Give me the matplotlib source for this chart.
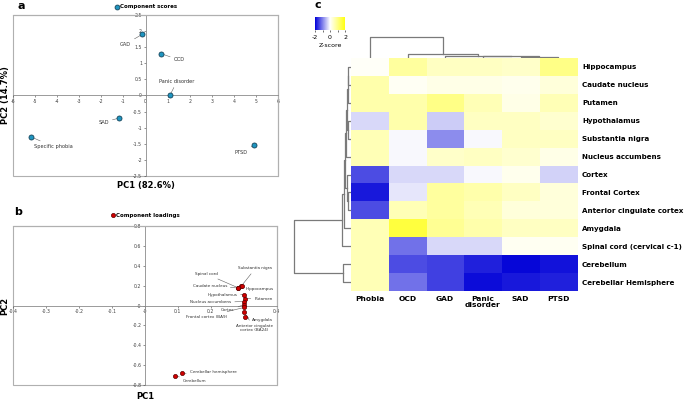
import numpy as np
import matplotlib.pyplot as plt
from matplotlib.colors import LinearSegmentedColormap
from matplotlib.lines import Line2D
from matplotlib.patches import Rectangle

# panel a: component scores
score_names = ['GAD', 'OCD', 'Panic disorder', 'SAD', 'Specific phobia', 'PTSD']
score_pc1 = [-0.15, 0.7, 1.1, -1.2, -5.2, 4.9]
score_pc2 = [1.9, 1.3, 0.0, -0.7, -1.28, -1.55]
score_offsets = [(-12, -7), (13, -4.5), (5, 10), (-11, -3), (16, -7), (-9, -5)]

# panel b: component loadings
load_names = ['Spinal cord', 'Substantia nigra', 'Caudate nucleus', 'Hippocampus',
              'Hypothalamus', 'Putamen', 'Nucleus accumbens', 'Cortex',
              'Frontal cortex (BA9)', 'Anterior cingulate\ncortex (BA24)', 'Amygdala',
              'Cerebellar hemisphere', 'Cerebellum']
load_pc1 = [0.283, 0.293, 0.281, 0.295, 0.302, 0.305, 0.301, 0.302, 0.301, 0.302, 0.303, 0.114, 0.092]
load_pc2 = [0.178, 0.198, 0.176, 0.196, 0.11, 0.07, 0.04, 0.01, -0.02, -0.07, -0.12, -0.684, -0.708]
load_offsets = [(-23, 10), (10, 12.5), (-20, 1.7), (13, -1.8), (-16, 0), (13, -0.5),
                (-24, -0.7), (-12, -4.3), (-27, -6.5), (7, -11), (13, -1.5), (22, 1.2), (14, -3.6)]

# panel c: heatmap
regions = ['Hippocampus', 'Caudate nucleus', 'Putamen', 'Hypothalamus', 'Substantia nigra',
           'Nucleus accumbens', 'Cortex', 'Frontal Cortex', 'Anterior cingulate cortex',
           'Amygdala', 'Spinal cord (cervical c-1)', 'Cerebellum', 'Cerebellar Hemisphere']
disorders = ['Phobia', 'OCD', 'GAD', 'Panic\ndisorder', 'SAD', 'PTSD']
zscores = [
    [0.05, 0.8, 0.5, 0.5, 0.45, 1.0],
    [0.7, 0.08, 0.2, 0.2, 0.15, 0.3],
    [0.7, 0.7, 1.0, 0.6, 0.2, 0.6],
    [-0.3, 0.7, -0.4, 0.5, 0.5, 0.4],
    [0.6, -0.05, -0.9, -0.05, 0.5, 0.5],
    [0.6, -0.05, 0.45, 0.5, 0.4, 0.2],
    [-1.4, -0.3, -0.3, -0.05, 0.15, -0.35],
    [-1.8, -0.2, 0.8, 0.7, 0.5, 0.3],
    [-1.4, 0.6, 0.8, 0.6, 0.3, 0.3],
    [0.6, 1.6, 0.9, 0.7, 0.5, 0.5],
    [0.6, -1.1, -0.3, -0.3, 0.1, 0.1],
    [0.6, -1.4, -1.5, -1.75, -1.95, -1.85],
    [0.6, -1.1, -1.5, -1.9, -1.8, -1.75],
]
# dendrograms as (height, left, right), leaves are indices
col_tree = (1.0, 0, (0.21, 1, (0.11, 2, (0.08, 3, (0.05, 4, 5)))))
row_tree = (1.0,
            (0.15,
             (0.11,
              (0.09,
               (0.07, (0.06, (0.04, (0.03, 0, 1), 2), (0.035, 3, 4)), 5),
               (0.06, 6, (0.04, 7, 8))),
              9),
             10),
            (0.125, 11, 12))

fig = plt.figure(figsize=(6.85, 4.0), dpi=100)

frame_c = '#b0b0b0'
axis_c = '#8a8a8a'


def pca_axes(ax, xlim, ylim, xticks, yticks, hide=()):
    ax.set_xlim(xlim)
    ax.set_ylim(ylim)
    ax.spines['left'].set_position(('data', 0))
    ax.spines['bottom'].set_position(('data', 0))
    for s in ['left', 'bottom']:
        ax.spines[s].set_color(axis_c)
        ax.spines[s].set_linewidth(0.6)
    for s in ['top', 'right']:
        ax.spines[s].set_color(frame_c)
        ax.spines[s].set_linewidth(0.8)
    ax.add_patch(Rectangle((0, 0), 1, 1, transform=ax.transAxes, fill=False,
                           ec=frame_c, lw=0.8, clip_on=False, zorder=0))
    ax.set_xticks(xticks)
    ax.set_xticklabels(['' if v in hide else f'{v:g}' for v in xticks])
    ax.set_yticks(yticks)
    ax.set_yticklabels([f'{v:g}' for v in yticks])
    ax.tick_params(labelsize=3.3, length=1.5, width=0.4, colors='#404040', pad=1)


# ---- panel a
ax_a = fig.add_axes([0.019, 0.56, 0.387, 0.4025])
pca_axes(ax_a, (-6, 6), (-2.5, 2.5), np.arange(-6, 7), np.arange(-2.5, 2.6, 0.5))
ax_a.scatter(score_pc1, score_pc2, s=13, c='#1f95c0', edgecolors='#16445a', linewidths=0.6, zorder=5)
for n, x, y, off in zip(score_names, score_pc1, score_pc2, score_offsets):
    ax_a.annotate(n, xy=(x, y), xytext=off, textcoords='offset points', ha='center', va='center',
                  fontsize=3.6, color='#303030',
                  arrowprops=dict(arrowstyle='-', color='#606060', lw=0.4, shrinkA=0.5, shrinkB=1.5))
ax_a.text(0.5, -0.056, 'PC1 (82.6%)', transform=ax_a.transAxes, ha='center', va='center',
          fontsize=6, fontweight='bold')
ax_a.text(-0.028, 0.5, 'PC2 (14.7%)', transform=ax_a.transAxes, ha='center', va='center',
          rotation=90, fontsize=6, fontweight='bold')
h = Line2D([], [], ls='', marker='o', ms=3.5, mfc='#1f95c0', mec='#16445a', mew=0.6)
ax_a.legend([h], ['Component scores'], loc='center', bbox_to_anchor=(0.5, 1.05), frameon=False,
            prop=dict(size=4, weight='bold'), handletextpad=0.1, borderpad=0, handlelength=1)

# ---- panel b
ax_b = fig.add_axes([0.019, 0.0375, 0.385, 0.3975])
pca_axes(ax_b, (-0.4, 0.4), (-0.8, 0.8), np.round(np.arange(-0.4, 0.41, 0.1), 1),
         np.round(np.arange(-0.8, 0.81, 0.2), 1), hide=(0.3,))
ax_b.scatter(load_pc1, load_pc2, s=9, c='#d00000', edgecolors='#5a0000', linewidths=0.5, zorder=5)
for n, x, y, off in zip(load_names, load_pc1, load_pc2, load_offsets):
    ax_b.annotate(n, xy=(x, y), xytext=off, textcoords='offset points', ha='center', va='center',
                  fontsize=3, color='#303030', linespacing=1.1,
                  arrowprops=dict(arrowstyle='-', color='#606060', lw=0.4, shrinkA=0.5, shrinkB=1.2))
ax_b.text(0.5, -0.07, 'PC1', transform=ax_b.transAxes, ha='center', va='center',
          fontsize=6, fontweight='bold')
ax_b.text(-0.032, 0.5, 'PC2', transform=ax_b.transAxes, ha='center', va='center',
          rotation=90, fontsize=6, fontweight='bold')
h = Line2D([], [], ls='', marker='o', ms=3, mfc='#d00000', mec='#5a0000', mew=0.5)
ax_b.legend([h], ['Component loadings'], loc='center', bbox_to_anchor=(0.5, 1.069), frameon=False,
            prop=dict(size=4, weight='bold'), handletextpad=0.1, borderpad=0, handlelength=1)

fig.text(0.031, 0.985, 'a', fontsize=8, fontweight='bold', ha='center', va='center')
fig.text(0.026, 0.47, 'b', fontsize=8, fontweight='bold', ha='center', va='center')
fig.text(0.464, 0.9875, 'c', fontsize=8, fontweight='bold', ha='center', va='center')

# ---- panel c
cmap = LinearSegmentedColormap.from_list('byw', ['#0000d8', '#ffffff', '#ffff10'])
ax_h = fig.add_axes([0.5124, 0.2725, 0.330, 0.5825])
im = ax_h.imshow(np.array(zscores), cmap=cmap, vmin=-2, vmax=2, aspect='auto')
ax_h.set_xticks(range(len(disorders)))
ax_h.set_xticklabels(disorders, fontsize=5.4, fontweight='bold', linespacing=1.0)
ax_h.set_yticks(range(len(regions)))
ax_h.set_yticklabels(regions, fontsize=5.1, fontweight='bold')
ax_h.yaxis.tick_right()
ax_h.tick_params(length=0)
ax_h.tick_params(axis='y', pad=3.6)
ax_h.tick_params(axis='x', pad=3.5)
for s in ax_h.spines.values():
    s.set_visible(False)


def draw_tree(ax, node, top):
    if isinstance(node, int):
        return float(node), 0.0
    hh, left, right = node
    pl, hl = draw_tree(ax, left, top)
    pr, hr = draw_tree(ax, right, top)
    if top:
        ax.plot([pl, pl, pr, pr], [hl, hh, hh, hr], color='#7a7a7a', lw=0.9)
    else:
        ax.plot([hl, hh, hh, hr], [pl, pl, pr, pr], color='#7a7a7a', lw=0.9)
    return (pl + pr) / 2, hh


ax_t = fig.add_axes([0.5124, 0.855, 0.330, 0.055])
draw_tree(ax_t, col_tree, True)
ax_t.set_xlim(-0.5, len(disorders) - 0.5)
ax_t.set_ylim(0, 1.05)
ax_t.axis('off')

ax_l = fig.add_axes([0.4263, 0.2725, 0.0861, 0.5825])
draw_tree(ax_l, row_tree, False)
ax_l.set_ylim(len(regions) - 0.5, -0.5)
ax_l.set_xlim(1.04, -0.02)
ax_l.axis('off')

cax = fig.add_axes([0.4599, 0.925, 0.0438, 0.0325])
cb = fig.colorbar(im, cax=cax, orientation='horizontal', ticks=[-2, -1, 0, 1, 2])
cb.ax.set_xticklabels(['-2', '', '0', '', '2'])
cb.outline.set_visible(False)
cb.ax.tick_params(labelsize=4.5, length=1.5, width=0.4, pad=2)
cb.set_label('Z-score', fontsize=4.5, labelpad=2.5)

fig.savefig('out.png', dpi=100)
